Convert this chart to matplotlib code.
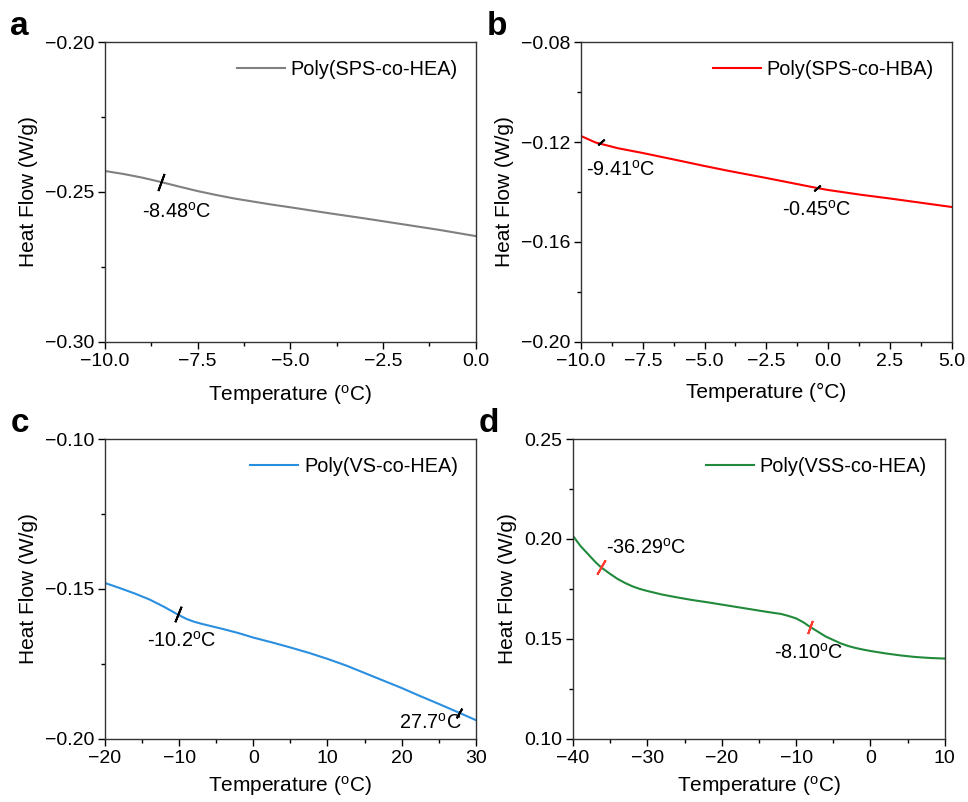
import numpy as np
import matplotlib.pyplot as plt
from matplotlib.ticker import MultipleLocator, FuncFormatter

plt.rcParams['font.family'] = ['Liberation Sans', 'DejaVu Sans']
plt.rcParams['mathtext.fontset'] = 'custom'
plt.rcParams['mathtext.rm'] = 'Liberation Sans'
plt.rcParams['mathtext.it'] = 'Liberation Sans:italic'
plt.rcParams['axes.unicode_minus'] = True

# panel a: Poly(SPS-co-HEA)
a_x = [-10, -9.5, -9, -8.48, -8, -7.5, -7, -6.5, -6, -5.5, -5, -4, -3, -2, -1, 0]
a_y = [-0.2430, -0.2440, -0.2452, -0.2467, -0.2482, -0.2497, -0.2510, -0.2522, -0.2532,
       -0.2542, -0.2551, -0.2570, -0.2588, -0.2607, -0.2626, -0.2647]
a_tg = [-8.48]
a_tg_y = [-0.2467]

# panel b: Poly(SPS-co-HBA)
b_x = [-10, -9.41, -8.5, -7.5, -6, -5, -4, -2.5, -0.45, 0, 1.25, 2.5, 3.75, 5]
b_y = [-0.1176, -0.1202, -0.1225, -0.1244, -0.1275, -0.1296, -0.1316, -0.1344, -0.1384,
       -0.1392, -0.1410, -0.1426, -0.1443, -0.1460]
b_tg = [-9.2, -0.45]
b_tg_y = [-0.1200, -0.1384]

# panel c: Poly(VS-co-HEA)
c_x = [-20, -18, -16, -14, -12, -10.2, -9, -8, -7, -6, -4, -2, 0, 2.5, 5, 7.5, 10,
       12.5, 15, 17.5, 20, 22.5, 25, 27.7, 30]
c_y = [-0.1480, -0.1497, -0.1515, -0.1535, -0.1560, -0.1585, -0.1600, -0.1609, -0.1616,
       -0.1622, -0.1634, -0.1647, -0.1662, -0.1678, -0.1695, -0.1713, -0.1733, -0.1755,
       -0.1780, -0.1805, -0.1830, -0.1857, -0.1883, -0.1912, -0.1937]
c_tg = [-10.2, 27.7]
c_tg_y = [-0.1585, -0.1912]

# panel d: Poly(VSS-co-HEA)
d_x = [-40, -39, -38, -37, -36.29, -35, -34, -33, -32, -31, -30, -28, -26, -24, -22, -20,
       -18, -16, -14, -12, -11, -10, -9, -8.1, -7, -6, -5, -4, -3, -2, -1, 0, 2, 4, 6, 8, 10]
d_y = [0.2015, 0.1965, 0.1925, 0.1885, 0.1860, 0.1825, 0.1800, 0.1780, 0.1763, 0.1750,
       0.1740, 0.1722, 0.1708, 0.1695, 0.1684, 0.1672, 0.1660, 0.1648, 0.1636, 0.1625,
       0.1615, 0.1603, 0.1583, 0.1560, 0.1535, 0.1512, 0.1495, 0.1478, 0.1465, 0.1455,
       0.1447, 0.1440, 0.1428, 0.1418, 0.1410, 0.1405, 0.1402]
d_tg = [-36.29, -8.1]
d_tg_y = [0.1860, 0.1560]

panels = [
    dict(letter='a', x=a_x, y=a_y, tg=a_tg, tg_y=a_tg_y, color='#808080', mark='black',
         label='Poly(SPS-co-HEA)', xlim=(-10, 0), ylim=(-0.30, -0.20), xmaj=2.5, ymaj=0.05,
         xfmt='%.1f', yfmt='%.2f', deg=r'($^{\rm o}$C)', lpad=9,
         notes=[(-9.0, -0.2567, '-8.48$^{\\rm o}$C')], mark_ang=[-20], mark_ms=[13],
         pos=[0.1085, 0.5736, 0.383, 0.374]),
    dict(letter='b', x=b_x, y=b_y, tg=b_tg, tg_y=b_tg_y, color='#ff0000', mark='black',
         label='Poly(SPS-co-HBA)', xlim=(-10, 5), ylim=(-0.20, -0.08), xmaj=2.5, ymaj=0.04,
         xfmt='%.1f', yfmt='%.2f', deg='(\u00b0C)', lpad=9,
         notes=[(-9.8, -0.1312, '-9.41$^{\\rm o}$C'), (-1.87, -0.1472, '-0.45$^{\\rm o}$C')],
         mark_ang=[-50, -50], mark_ms=[6, 6],
         pos=[0.6002, 0.5736, 0.383, 0.374]),
    dict(letter='c', x=c_x, y=c_y, tg=c_tg, tg_y=c_tg_y, color='#2b8fe0', mark='black',
         label='Poly(VS-co-HEA)', xlim=(-20, 30), ylim=(-0.20, -0.10), xmaj=10, ymaj=0.05,
         xfmt='%d', yfmt='%.2f', deg=r'($^{\rm o}$C)', lpad=5,
         notes=[(-14.3, -0.1673, '-10.2$^{\\rm o}$C'), (19.6, -0.1947, '27.7$^{\\rm o}$C')],
         mark_ang=[-22, -30], mark_ms=[12, 8],
         pos=[0.1085, 0.0786, 0.383, 0.374]),
    dict(letter='d', x=d_x, y=d_y, tg=d_tg, tg_y=d_tg_y, color='#218a3c', mark='#ff3b2f',
         label='Poly(VSS-co-HEA)', xlim=(-40, 10), ylim=(0.10, 0.25), xmaj=10, ymaj=0.05,
         xfmt='%d', yfmt='%.2f', deg=r'($^{\rm o}$C)', lpad=5,
         notes=[(-35.6, 0.1955, '-36.29$^{\\rm o}$C'), (-13.0, 0.1430, '-8.10$^{\\rm o}$C')],
         mark_ang=[-30, -20], mark_ms=[12, 10],
         pos=[0.592, 0.0786, 0.384, 0.374]),
]

fig = plt.figure(figsize=(9.68, 8.02), dpi=100)

for p in panels:
    ax = fig.add_axes(p['pos'])
    ax.plot(p['x'], p['y'], color=p['color'], lw=1.5, label=p['label'])
    for tx, ty, ang, ms in zip(p['tg'], p['tg_y'], p['mark_ang'], p['mark_ms']):
        ax.plot([tx], [ty], linestyle='none', marker=(2, 2, ang), ms=ms,
                mec=p['mark'], mew=1.4)
    for nx, ny, txt in p['notes']:
        ax.text(nx, ny, txt, ha='left', va='center', fontsize=14.3)
    ax.set_xlim(*p['xlim'])
    ax.set_ylim(*p['ylim'])
    ax.xaxis.set_major_locator(MultipleLocator(p['xmaj']))
    ax.xaxis.set_minor_locator(MultipleLocator(p['xmaj'] / 2))
    ax.yaxis.set_major_locator(MultipleLocator(p['ymaj']))
    ax.yaxis.set_minor_locator(MultipleLocator(p['ymaj'] / 2))
    xf, yf = p['xfmt'], p['yfmt']
    ax.xaxis.set_major_formatter(FuncFormatter(lambda v, _, f=xf: (f % v).replace('-', '\u2212')))
    ax.yaxis.set_major_formatter(FuncFormatter(lambda v, _, f=yf: (f % v).replace('-', '\u2212')))
    ax.tick_params(which='major', direction='out', length=5, width=1, labelsize=14, pad=3)
    ax.tick_params(which='minor', direction='out', length=3, width=1)
    for s in ax.spines.values():
        s.set_linewidth(1.0)
        s.set_color('#333333')
    ax.set_xlabel('Temperature ' + p['deg'], fontsize=15, labelpad=p['lpad'])
    ax.set_ylabel('Heat Flow (W/g)', fontsize=15, labelpad=5)
    ax.legend(loc='upper right', frameon=False, fontsize=14.3, handlelength=2.4,
              handletextpad=0.3, borderaxespad=0.5)
    ax.text(-0.255, 1.0, p['letter'], transform=ax.transAxes, fontsize=24,
            fontweight='bold', ha='left', va='bottom')

fig.savefig('out.png', dpi=100)
